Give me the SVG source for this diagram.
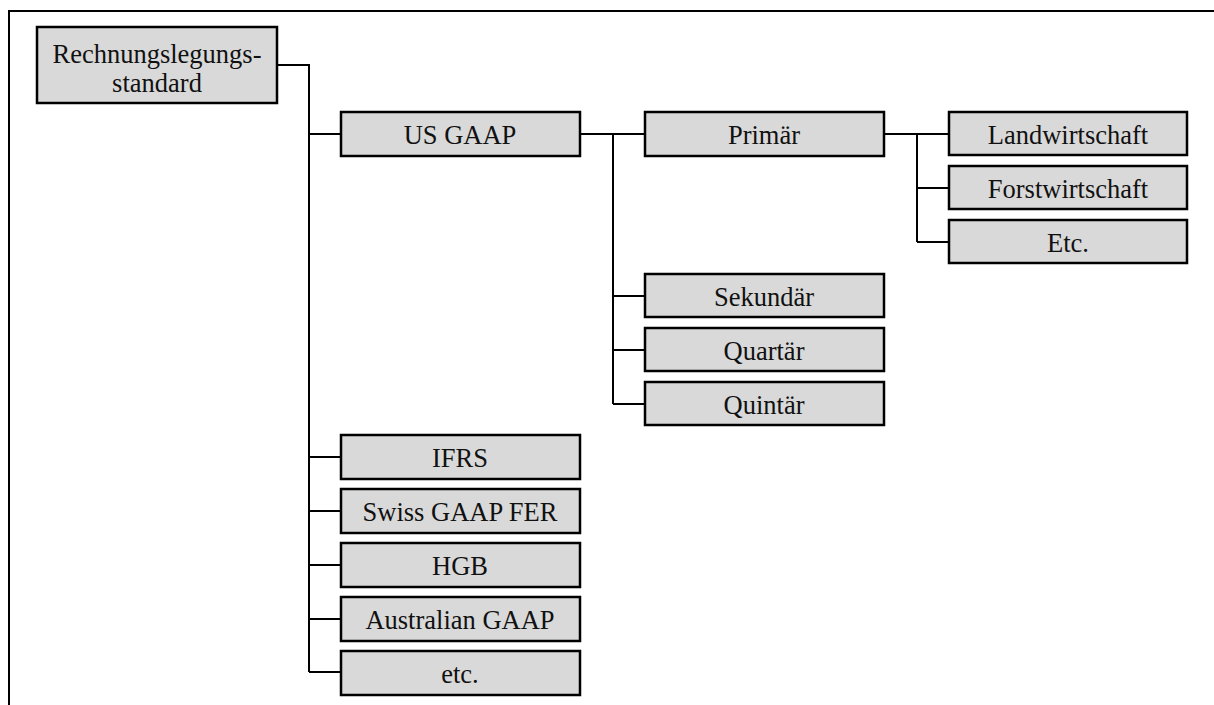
<svg xmlns="http://www.w3.org/2000/svg" width="1214" height="705" viewBox="0 0 1214 705">
  <style>
    .box { fill: #d9d9d9; stroke: #000; stroke-width: 2.5; }
    .lbl { font-family: "Liberation Serif", "Times New Roman", serif; font-size: 26.5px; fill: #111; text-anchor: middle; }
    .wire { fill: none; stroke: #000; stroke-width: 2; }
  </style>
  <rect width="1214" height="705" fill="#fff"/>

  <!-- outer frame (top and left edges only) -->
  <path class="wire" d="M9 705 V11 H1214"/>

  <g id="connectors">
    <!-- main trunk -->
    <path class="wire" d="M277 65 H309 V672"/>
    <path class="wire" d="M309 134 H341 M309 457 H341 M309 511 H341 M309 565 H341 M309 619 H341 M309 672 H341"/>
    <!-- US GAAP branch -->
    <path class="wire" d="M580 134 H645 M613 134 V404 M613 296 H645 M613 350 H645 M613 404 H645"/>
    <!-- Primär branch -->
    <path class="wire" d="M884 134 H949 M917 134 V242 M917 188 H949 M917 242 H949"/>
  </g>

  <g id="root">
    <rect class="box" x="37" y="27" width="240" height="76"/>
    <text class="lbl" x="157" y="63">Rechnungslegungs-</text>
    <text class="lbl" x="157" y="92">standard</text>
  </g>

  <g id="us-gaap">
    <rect class="box" x="341" y="112" width="239" height="44"/>
    <text class="lbl" x="460" y="144">US GAAP</text>
  </g>
  <g id="primaer">
    <rect class="box" x="645" y="112" width="239" height="44"/>
    <text class="lbl" x="764" y="144">Primär</text>
  </g>
  <g id="landwirtschaft">
    <rect class="box" x="949" y="112" width="238" height="43"/>
    <text class="lbl" x="1068" y="144">Landwirtschaft</text>
  </g>
  <g id="forstwirtschaft">
    <rect class="box" x="949" y="166" width="238" height="43"/>
    <text class="lbl" x="1068" y="198">Forstwirtschaft</text>
  </g>
  <g id="etc-primaer">
    <rect class="box" x="949" y="220" width="238" height="43"/>
    <text class="lbl" x="1068" y="252">Etc.</text>
  </g>
  <g id="sekundaer">
    <rect class="box" x="645" y="274" width="239" height="43"/>
    <text class="lbl" x="764" y="306">Sekundär</text>
  </g>
  <g id="quartaer">
    <rect class="box" x="645" y="328" width="239" height="43"/>
    <text class="lbl" x="764" y="360">Quartär</text>
  </g>
  <g id="quintaer">
    <rect class="box" x="645" y="382" width="239" height="43"/>
    <text class="lbl" x="764" y="414">Quintär</text>
  </g>

  <g id="ifrs">
    <rect class="box" x="341" y="435" width="239" height="44"/>
    <text class="lbl" x="460" y="467">IFRS</text>
  </g>
  <g id="swiss-gaap-fer">
    <rect class="box" x="341" y="489" width="239" height="44"/>
    <text class="lbl" x="460" y="521">Swiss GAAP FER</text>
  </g>
  <g id="hgb">
    <rect class="box" x="341" y="543" width="239" height="44"/>
    <text class="lbl" x="460" y="575">HGB</text>
  </g>
  <g id="australian-gaap">
    <rect class="box" x="341" y="597" width="239" height="44"/>
    <text class="lbl" x="460" y="629">Australian GAAP</text>
  </g>
  <g id="etc-standards">
    <rect class="box" x="341" y="651" width="239" height="44"/>
    <text class="lbl" x="460" y="683">etc.</text>
  </g>
</svg>
